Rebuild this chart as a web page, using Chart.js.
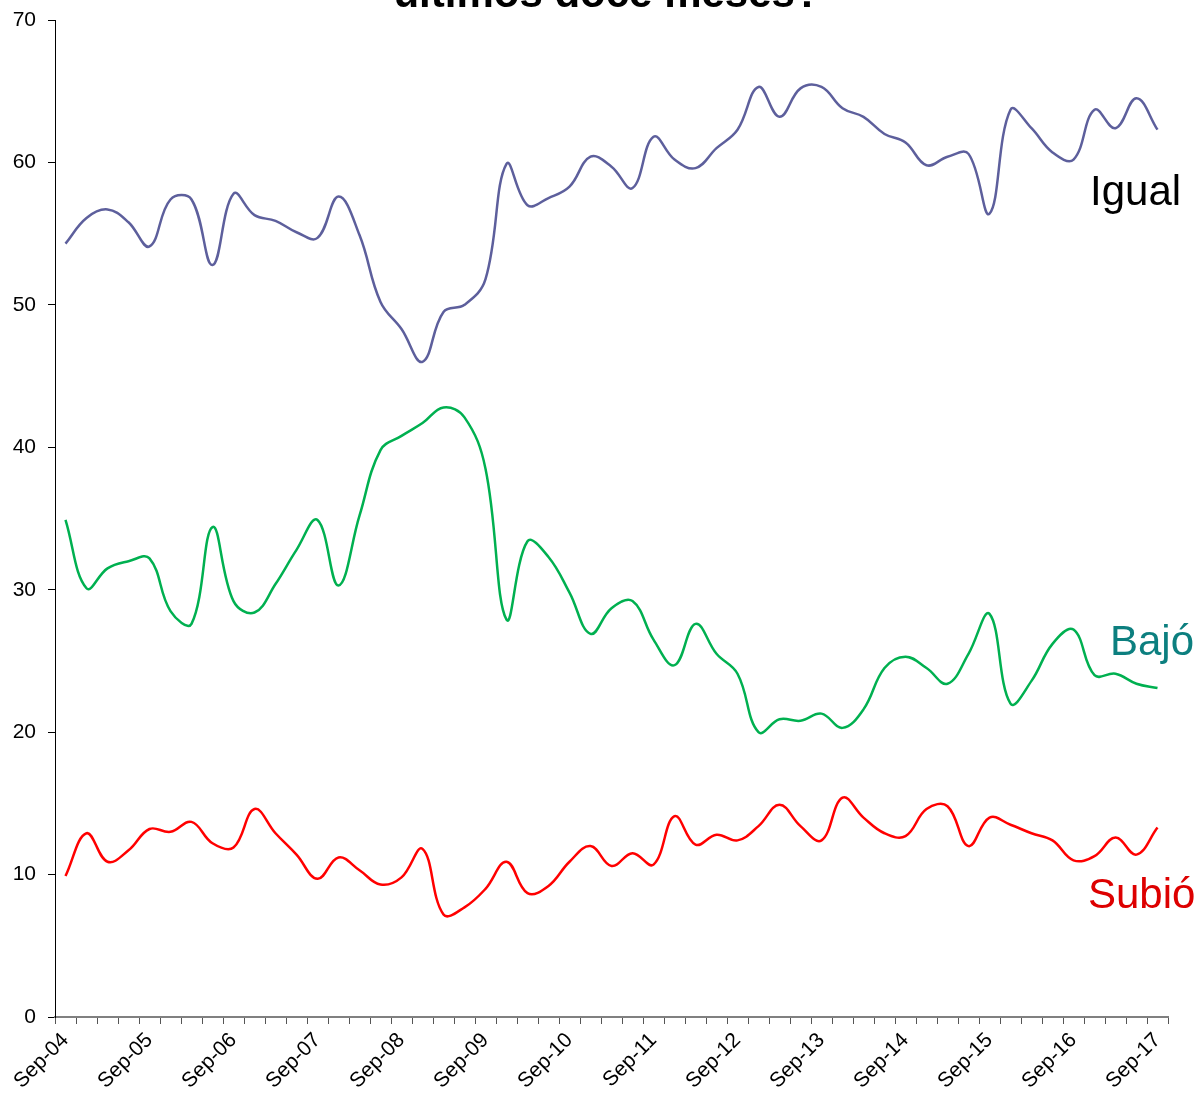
<!DOCTYPE html>
<html lang="es">
<head>
    <meta charset="UTF-8">
    <title>Precios últimos doce meses</title>
    <script src="https://cdn.jsdelivr.net/npm/chart.js"></script>
    <style>
        body {
            margin: 0;
            padding: 0;
            background-color: #fff;
        }

        .chart-container {
            width: 1198px;
            height: 1094px;
            position: relative;
        }
    </style>
</head>
<body>
<div class="chart-container">
    <canvas id="lineChart"></canvas>
</div>

<script>
    // Quarterly survey rounds, Sep-04 to Sep-17
    const periods = [
        'Sep-04', 'Dec-04', 'Mar-05', 'Jun-05',
        'Sep-05', 'Dec-05', 'Mar-06', 'Jun-06',
        'Sep-06', 'Dec-06', 'Mar-07', 'Jun-07',
        'Sep-07', 'Dec-07', 'Mar-08', 'Jun-08',
        'Sep-08', 'Dec-08', 'Mar-09', 'Jun-09',
        'Sep-09', 'Dec-09', 'Mar-10', 'Jun-10',
        'Sep-10', 'Dec-10', 'Mar-11', 'Jun-11',
        'Sep-11', 'Dec-11', 'Mar-12', 'Jun-12',
        'Sep-12', 'Dec-12', 'Mar-13', 'Jun-13',
        'Sep-13', 'Dec-13', 'Mar-14', 'Jun-14',
        'Sep-14', 'Dec-14', 'Mar-15', 'Jun-15',
        'Sep-15', 'Dec-15', 'Mar-16', 'Jun-16',
        'Sep-16', 'Dec-16', 'Mar-17', 'Jun-17',
        'Sep-17'
    ];

    const igual = [
        54.3, 56.1, 56.7, 55.8, 54.1, 57.4, 57.4, 52.8, 57.8, 56.3,
        55.9, 55.1, 54.7, 57.6, 54.9, 50.2, 48.3, 46.0, 49.5, 50.0,
        51.8, 59.9, 57.0, 57.5, 58.3, 60.4, 59.7, 58.2, 61.8, 60.2,
        59.6, 61.0, 62.3, 65.3, 63.2, 65.2, 65.3, 63.8, 63.2, 62.0,
        61.4, 59.8, 60.4, 60.6, 56.4, 63.7, 62.4, 60.7, 60.2, 63.7,
        62.4, 64.5, 62.3
    ];

    const bajo = [
        34.9, 30.1, 31.5, 32.0, 32.2, 28.5, 27.6, 34.4, 29.2, 28.4,
        30.4, 32.8, 34.9, 30.3, 35.2, 39.8, 40.8, 41.7, 42.8, 42.1,
        38.5, 27.9, 33.4, 32.3, 29.8, 26.9, 28.7, 29.2, 26.5, 24.7,
        27.6, 25.5, 24.1, 20.0, 20.9, 20.8, 21.3, 20.3, 21.6, 24.5,
        25.3, 24.5, 23.4, 25.5, 28.3, 22.0, 23.6, 26.2, 27.2, 24.0,
        24.1, 23.4, 23.1
    ];

    const subio = [
        9.9, 12.9, 10.9, 11.7, 13.2, 13.0, 13.7, 12.2, 11.9, 14.6,
        12.9, 11.4, 9.7, 11.2, 10.3, 9.3, 9.8, 11.8, 7.2, 7.7,
        9.0, 10.9, 8.7, 9.2, 10.9, 12.0, 10.6, 11.5, 10.7, 14.1,
        12.1, 12.8, 12.4, 13.4, 14.9, 13.4, 12.4, 15.4, 14.0, 12.9,
        12.7, 14.6, 14.8, 12.0, 14.0, 13.5, 12.9, 12.4, 11.0, 11.3,
        12.6, 11.4, 13.3
    ];

    const yTicks = [0, 10, 20, 30, 40, 50, 60, 70];

    // Title (second line only, cut by the top edge) and series names
    const textPlugin = {
        id: 'texts',
        afterDraw(chart) {
            const c = chart.ctx;
            c.save();
            c.textBaseline = 'alphabetic';
            c.textAlign = 'center';
            c.fillStyle = '#000';
            c.font = 'bold 42px "Liberation Sans", Arial, sans-serif';
            c.fillText('últimos doce meses?', 607, 7);

            c.textAlign = 'left';
            c.font = '42px "Liberation Sans", Arial, sans-serif';
            c.fillStyle = '#000000';
            c.fillText('Igual', 1090, 205);
            c.fillStyle = '#0c7f7f';
            c.fillText('Bajó', 1110, 655);
            c.fillStyle = '#dd0000';
            c.fillText('Subió', 1088, 908);
            c.restore();
        }
    };

    const ctx = document.getElementById('lineChart').getContext('2d');
    const lineChart = new Chart(ctx, {
        type: 'line',
        data: {
            labels: periods,
            datasets: [
                { label: 'Igual', data: igual, borderColor: '#5d5f9c', borderWidth: 2.5 },
                { label: 'Bajó', data: bajo, borderColor: '#00b050', borderWidth: 2.5 },
                { label: 'Subió', data: subio, borderColor: '#ff0000', borderWidth: 2.5 }
            ]
        },
        options: {
            responsive: true,
            maintainAspectRatio: false,
            animation: false,
            layout: { padding: { top: 20, right: 30, left: 0, bottom: 0 } },
            elements: {
                point: { radius: 0 },
                line: { tension: 0.4, fill: false }
            },
            plugins: {
                legend: { display: false },
                tooltip: { enabled: false }
            },
            scales: {
                x: {
                    offset: true,
                    afterFit(scale) { scale.height = 77; },
                    grid: {
                        offset: true,
                        drawOnChartArea: false,
                        drawTicks: true,
                        tickLength: 7,
                        tickColor: '#555'
                    },
                    border: { color: '#808080', width: 2 },
                    ticks: {
                        autoSkip: false,
                        minRotation: 45,
                        maxRotation: 45,
                        padding: 4,
                        color: '#000',
                        font: { family: '"Liberation Sans", Arial, sans-serif', size: 21 },
                        callback(value, index) {
                            const lab = periods[index];
                            return lab.startsWith('Sep') ? lab : '';
                        }
                    }
                },
                y: {
                    min: 0,
                    max: 70,
                    afterFit(scale) {
                        scale.width = 55;
                        scale.paddingTop = 0;
                        scale.paddingBottom = 0;
                    },
                    afterBuildTicks(scale) {
                        scale.ticks = yTicks.map(v => ({ value: v }));
                    },
                    grid: {
                        drawOnChartArea: false,
                        drawTicks: true,
                        tickLength: 7,
                        tickColor: '#000'
                    },
                    border: { color: '#000', width: 1 },
                    ticks: {
                        padding: 12,
                        color: '#000',
                        font: { family: '"Liberation Sans", Arial, sans-serif', size: 21 }
                    }
                }
            }
        },
        plugins: [textPlugin]
    });
</script>
</body>
</html>
